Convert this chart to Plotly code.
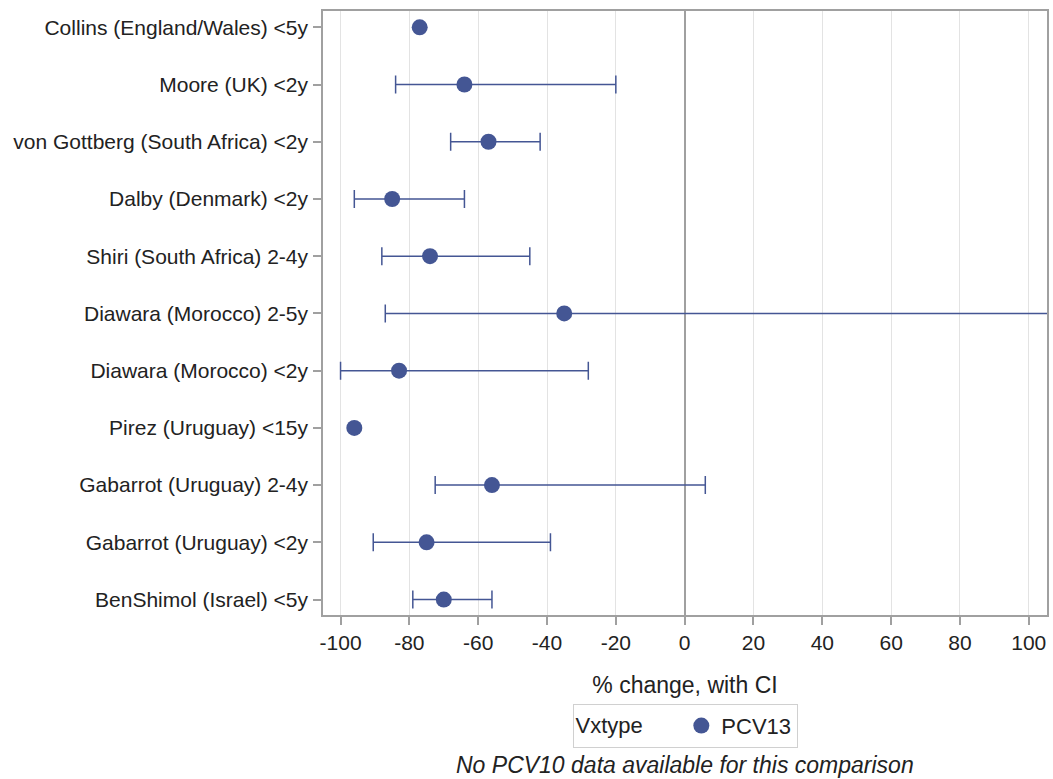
import plotly.graph_objects as go

studies = [
    "Collins (England/Wales) <5y",
    "Moore (UK) <2y",
    "von Gottberg (South Africa) <2y",
    "Dalby (Denmark) <2y",
    "Shiri (South Africa) 2-4y",
    "Diawara (Morocco) 2-5y",
    "Diawara (Morocco) <2y",
    "Pirez (Uruguay) <15y",
    "Gabarrot (Uruguay) 2-4y",
    "Gabarrot (Uruguay) <2y",
    "BenShimol (Israel) <5y",
]
pct_change = [-77, -64, -57, -85, -74, -35, -83, -96, -56, -75, -70]
ci_lower = [None, -84, -68, -96, -88, -87, -100, None, -72.5, -90.5, -79]
ci_upper = [None, -20, -42, -64, -45, 160, -28, None, 6, -39, -56]

x_ticks = [-100, -80, -60, -40, -20, 0, 20, 40, 60, 80, 100]

color = "#445694"
font_family = "Liberation Sans, Arial, sans-serif"

has_ci = [l is not None for l in ci_lower]
err_plus = [(u - p) for p, u, h in zip(pct_change, ci_upper, has_ci) if h]
err_minus = [(p - l) for p, l, h in zip(pct_change, ci_lower, has_ci) if h]

fig = go.Figure()

fig.add_trace(go.Scatter(
    x=[p for p, h in zip(pct_change, has_ci) if h],
    y=[s for s, h in zip(studies, has_ci) if h],
    mode="markers",
    marker=dict(size=1, color="rgba(0,0,0,0)"),
    error_x=dict(
        type="data", symmetric=False,
        array=err_plus, arrayminus=err_minus,
        color=color, thickness=1.5, width=9,
    ),
    showlegend=False, hoverinfo="skip",
))

fig.add_trace(go.Scatter(
    x=pct_change, y=studies,
    mode="markers",
    name="PCV13",
    marker=dict(size=16, color=color, symbol="circle"),
))

fig.update_layout(
    width=1053, height=779,
    margin=dict(l=323, r=6, t=11, b=164, autoexpand=False),
    plot_bgcolor="white", paper_bgcolor="white",
    font=dict(family=font_family, size=21, color="#222222"),
    xaxis=dict(
        range=[-105.1, 105.3],
        tickvals=x_ticks,
        ticktext=[str(t) for t in x_ticks],
        showgrid=True, gridcolor="#e3e3e3", gridwidth=1.2,
        zeroline=True, zerolinecolor="#a0a0a0", zerolinewidth=1.5,
        showline=True, linecolor="#a0a0a0", linewidth=1.5, mirror=True,
        ticks="outside", ticklen=8, tickcolor="#a0a0a0", tickwidth=1.5,
        tickfont=dict(size=21),
        automargin=False,
        title=dict(text="% change, with CI", font=dict(size=23), standoff=24),
    ),
    yaxis=dict(
        type="category",
        categoryorder="array", categoryarray=studies,
        range=[10.27, -0.285],
        showgrid=False, zeroline=False,
        showline=True, linecolor="#a0a0a0", linewidth=1.5, mirror=True,
        ticks="outside", ticklen=8, tickcolor="#a0a0a0", tickwidth=1.5,
        tickfont=dict(size=21),
        ticklabelstandoff=1,
        automargin=False,
    ),
    legend=dict(
        orientation="h",
        x=0.5, xanchor="center",
        y=-0.147, yanchor="top",
        bordercolor="#d0d0d0", borderwidth=1,
        title=dict(text="Vxtype     ", side="left", font=dict(size=22)),
        font=dict(size=22),
        itemwidth=30,
    ),
    annotations=[
        dict(
            text="<i>No PCV10 data available for this comparison</i>",
            xref="paper", yref="paper", x=0.5, y=-0.249,
            xanchor="center", yanchor="middle", showarrow=False,
            font=dict(size=23, color="#222222"),
        )
    ],
)

fig.write_html("out.html", config={"displayModeBar": False})
